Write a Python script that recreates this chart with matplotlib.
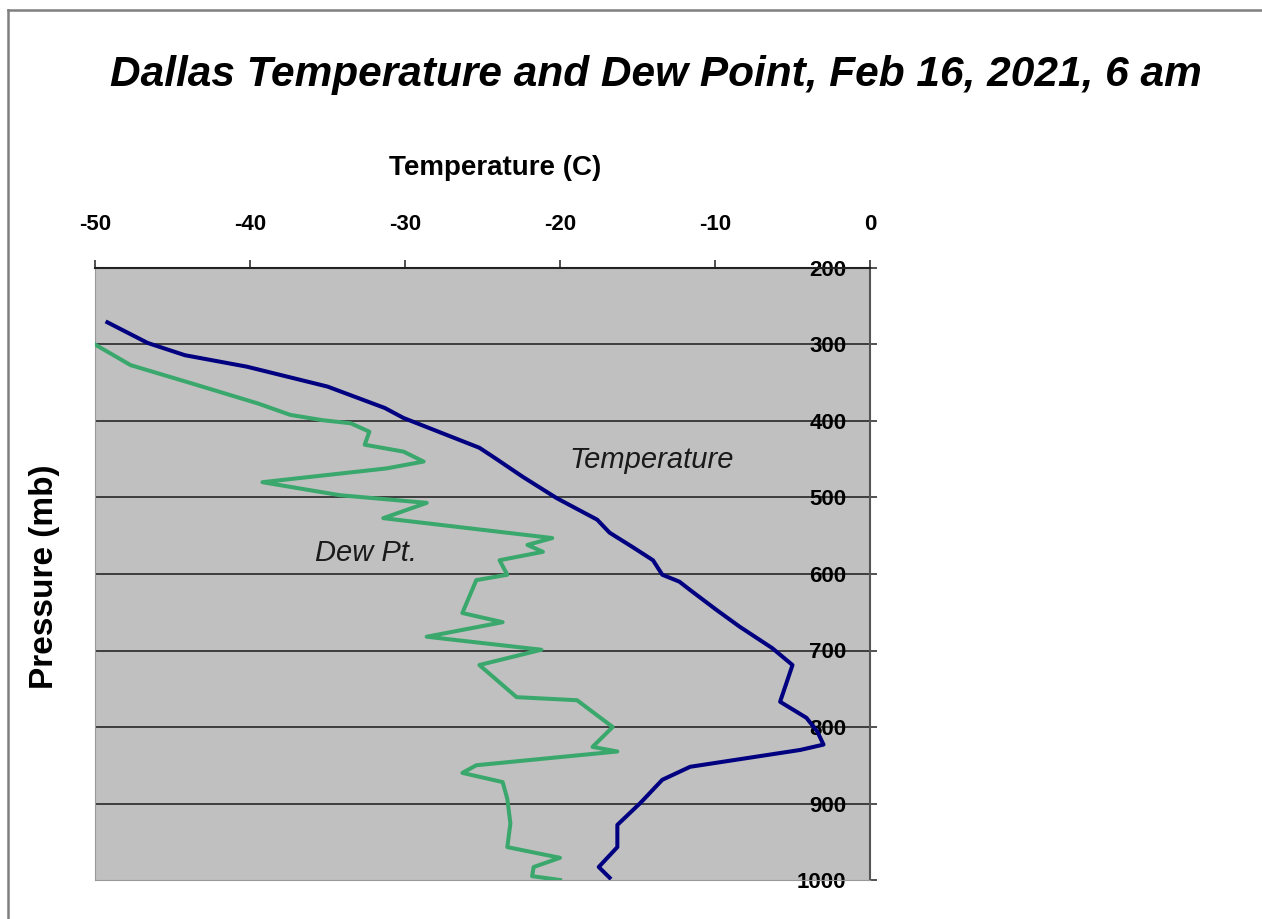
import matplotlib
matplotlib.use("Agg")
import matplotlib.pyplot as plt
from matplotlib.lines import Line2D

# temperature sounding (pressure mb, temperature C)
temp_p = [271, 298, 314, 329, 355, 383, 396, 435, 447, 473, 501, 529, 546,
          565, 582, 601, 610, 621, 647, 669, 697, 719, 767, 788, 806, 823,
          830, 852, 869, 899, 928, 957, 983, 997]
temp_t = [-49.2, -46.6, -44.2, -40.2, -35.0, -31.3, -30.1, -25.2, -24.3,
          -22.4, -20.2, -17.6, -16.8, -15.3, -14.0, -13.4, -12.3, -11.6,
          -9.9, -8.4, -6.3, -5.0, -5.8, -4.1, -3.4, -3.0, -4.5, -11.6,
          -13.4, -14.8, -16.3, -16.3, -17.5, -16.8]

# dew point sounding
dew_p = [300, 307, 327, 350, 377, 392, 399, 403, 414, 431, 440, 453, 462,
         480, 497, 507, 527, 553, 562, 571, 582, 601, 608, 651, 663, 682,
         699, 719, 761, 765, 800, 826, 832, 850, 860, 872, 894, 926, 957,
         971, 983, 995, 1000]
dew_t = [-50.0, -49.4, -47.7, -43.9, -39.5, -37.4, -35.3, -33.5, -32.3,
         -32.6, -30.1, -28.8, -31.2, -39.2, -34.2, -28.6, -31.4, -20.5,
         -22.1, -21.1, -23.9, -23.4, -25.4, -26.3, -23.7, -28.6, -21.2,
         -25.2, -22.8, -18.9, -16.6, -17.9, -16.3, -25.4, -26.3, -23.7,
         -23.4, -23.2, -23.4, -20.0, -21.7, -21.8, -20.0]

x_ticks = [-50, -40, -30, -20, -10, 0]
y_ticks = [200, 300, 400, 500, 600, 700, 800, 900, 1000]

plt.rcParams['font.family'] = ['Liberation Sans', 'DejaVu Sans']

W, H = 1262, 919
fig = plt.figure(figsize=(W / 100, H / 100), dpi=100)
ax = fig.add_axes([95 / W, 1 - 880 / H, 775 / W, 612 / H])
ax.set_facecolor('#c0c0c0')

for p in y_ticks[1:-1]:
    ax.axhline(p, color='#1a1a1a', lw=1.1, zorder=1)

ax.plot(temp_t, temp_p, color='#000080', lw=2.9, zorder=3)
ax.plot(dew_t, dew_p, color='#3aa86c', lw=2.9, zorder=3)

ax.set_xlim(-50, 0)
ax.set_ylim(1000, 200)

ax.xaxis.tick_top()
ax.set_xticks(x_ticks)
ax.set_xticklabels([str(v) for v in x_ticks], fontsize=16, fontweight='bold')
ax.tick_params(axis='x', direction='out', length=6, width=1.2, pad=18,
               color='#333333')

ax.yaxis.tick_right()
ax.set_yticks(y_ticks)
ax.set_yticklabels([str(v) for v in y_ticks], fontsize=16, fontweight='bold')
ax.tick_params(axis='y', direction='out', length=5, width=1.2, pad=-22,
               color='#333333')
for lbl in ax.get_yticklabels():
    lbl.set_horizontalalignment('right')

ax.spines['top'].set_color('#222222')
ax.spines['top'].set_linewidth(1.5)
ax.spines['right'].set_color('#555555')
ax.spines['right'].set_linewidth(1.5)
ax.spines['left'].set_color('#999999')
ax.spines['bottom'].set_color('#999999')

ax.text(-14.1, 451, 'Temperature', fontsize=21, fontstyle='italic',
        ha='center', va='center', color='#1a1a1a')
ax.text(-32.5, 573, 'Dew Pt.', fontsize=21, fontstyle='italic',
        ha='center', va='center', color='#1a1a1a')

fig.text(656 / W, 1 - 75 / H,
         'Dallas Temperature and Dew Point, Feb 16, 2021, 6 am',
         fontsize=30.5, fontweight='bold', fontstyle='italic',
         ha='center', va='center')
fig.text(495 / W, 1 - 168 / H, 'Temperature (C)', fontsize=20,
         fontweight='bold', ha='center', va='center')
fig.text(45 / W, 1 - 577 / H, 'Pressure (mb)', fontsize=24,
         fontweight='bold', rotation=90, ha='center', va='center')

# outer frame of the chart area
fig.add_artist(Line2D([8 / W, 1], [1 - 10 / H, 1 - 10 / H],
                      transform=fig.transFigure, color='#7f7f7f', lw=1.8))
fig.add_artist(Line2D([8 / W, 8 / W], [0, 1 - 10 / H],
                      transform=fig.transFigure, color='#7f7f7f', lw=1.8))

fig.savefig('out.png', dpi=100)
